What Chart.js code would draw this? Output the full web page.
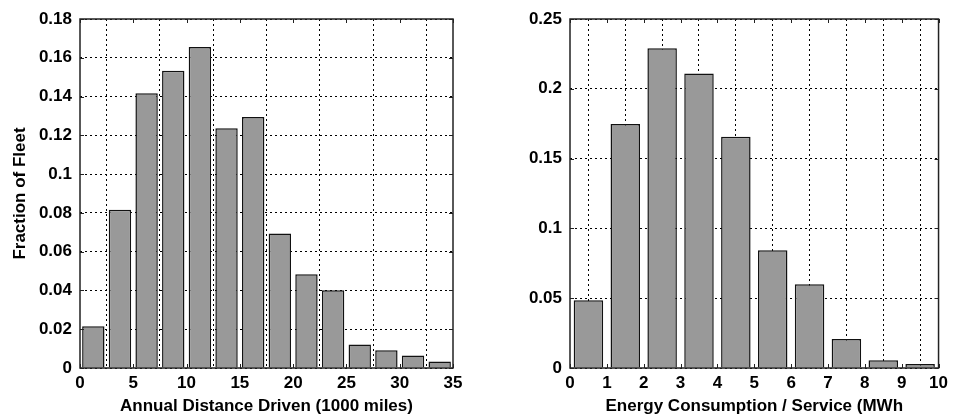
<!DOCTYPE html>
<html lang="en">
<head>
<meta charset="utf-8">
<title>Fleet histograms</title>
<style>
  body { margin: 0; background: #fff; }
  .panel { position: absolute; top: 0; }
</style>
</head>
<body>
<div class="panel" style="left:0"><canvas id="distChart" width="470" height="419"></canvas></div>
<div class="panel" style="left:480px"><canvas id="energyChart" width="473" height="419"></canvas></div>
<script src="https://cdn.jsdelivr.net/npm/chart.js@4/dist/chart.umd.min.js"></script>
<script>
// annual distance, bins of 2.5 (1000 miles)
var distCenters = [1.25, 3.75, 6.25, 8.75, 11.25, 13.75, 16.25, 18.75, 21.25, 23.75, 26.25, 28.75, 31.25, 33.75];
var distFraction = [0.0215, 0.0816, 0.1417, 0.1533, 0.1656, 0.1237, 0.1294, 0.0694, 0.0484, 0.0401, 0.0121, 0.0091, 0.0064, 0.0033];

// energy per service, bins of 1 MWh
var energyCenters = [0.5, 1.5, 2.5, 3.5, 4.5, 5.5, 6.5, 7.5, 8.5, 9.5];
var energyFraction = [0.0485, 0.1747, 0.229, 0.211, 0.1656, 0.0844, 0.06, 0.0208, 0.0055, 0.0029];

var FONT = "'Liberation Sans', Arial, sans-serif";

// box around the plot area plus small inward tick marks, drawn over the bars
var boxPlugin = {
  id: 'box',
  afterDatasetsDraw: function(chart) {
    var a = chart.chartArea, ctx = chart.ctx;
    var xs = chart.scales.x, ys = chart.scales.y, tl = 4;
    ctx.save();
    ctx.strokeStyle = '#222';
    ctx.lineWidth = 1.5;
    ctx.strokeRect(a.left, a.top, a.right - a.left, a.bottom - a.top);
    ctx.lineWidth = 1;
    ctx.beginPath();
    xs.ticks.forEach(function(t) {
      var px = Math.round(xs.getPixelForValue(t.value)) + 0.5;
      ctx.moveTo(px, a.bottom); ctx.lineTo(px, a.bottom - tl);
      ctx.moveTo(px, a.top); ctx.lineTo(px, a.top + tl);
    });
    ys.ticks.forEach(function(t) {
      var py = Math.round(ys.getPixelForValue(t.value)) + 0.5;
      ctx.moveTo(a.left, py); ctx.lineTo(a.left + tl, py);
      ctx.moveTo(a.right, py); ctx.lineTo(a.right - tl, py);
    });
    ctx.stroke();
    ctx.restore();
  }
};

function fmt(v) { return String(+v.toFixed(3)); }

function makeHist(id, centers, values, xmax, xstep, ymax, ystep, barPct, xTitle, yTitle, yWidth, padRight) {
  var pts = centers.map(function(c, i) { return {x: c, y: values[i]}; });
  return new Chart(document.getElementById(id), {
    type: 'bar',
    data: {
      datasets: [{
        data: pts,
        backgroundColor: '#999999',
        borderColor: '#111',
        borderWidth: 1.5,
        barPercentage: barPct,
        categoryPercentage: 1
      }]
    },
    options: {
      responsive: false,
      animation: false,
      layout: { padding: { top: 19, right: padRight, left: 0, bottom: 0 } },
      plugins: { legend: { display: false }, tooltip: { enabled: false } },
      scales: {
        x: {
          type: 'linear',
          offset: false,
          min: 0, max: xmax,
          grid: { color: '#000', lineWidth: 1, drawTicks: false },
          border: { display: false, dash: [2, 3] },
          ticks: { stepSize: xstep, padding: 5, color: '#000', font: { family: FONT, size: 17, weight: 'bold' }, callback: fmt, maxRotation: 0 },
          title: { display: true, text: xTitle, color: '#000', padding: { top: 4, bottom: 2 }, font: { family: FONT, size: 17, weight: 'bold' } },
          afterFit: function(s) { s.height = 51; }
        },
        y: {
          min: 0, max: ymax,
          grid: { color: '#000', lineWidth: 1, drawTicks: false },
          border: { display: false, dash: [2, 3] },
          ticks: { stepSize: ystep, padding: 8, color: '#000', font: { family: FONT, size: 17, weight: 'bold' }, callback: fmt },
          title: { display: !!yTitle, text: yTitle, color: '#000', padding: { top: 10, bottom: 4 }, font: { family: FONT, size: 17, weight: 'bold' } },
          afterFit: function(s) { s.width = yWidth; }
        }
      }
    },
    plugins: [boxPlugin]
  });
}

makeHist('distChart', distCenters, distFraction, 35, 5, 0.18, 0.02, 0.84,
  'Annual Distance Driven (1000 miles)', 'Fraction of Fleet', 80, 17);
makeHist('energyChart', energyCenters, energyFraction, 10, 1, 0.25, 0.05, 0.8,
  'Energy Consumption / Service (MWh', '', 90, 10);
</script>
</body>
</html>
